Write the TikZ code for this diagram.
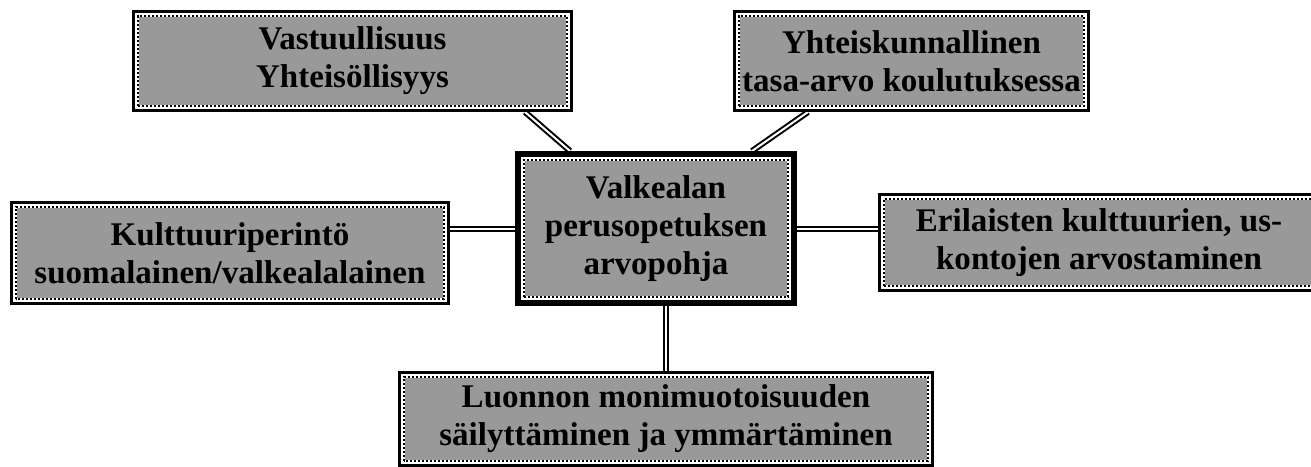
\documentclass[tikz,border=0pt]{standalone}
\usepackage{fontspec}
\setmainfont{Liberation Serif}
\pgfdeclarelayer{bg}
\pgfsetlayers{bg,main}
\tikzset{
  kehys/.style={path picture={
      \draw[white, line width=2*#1+0.05cm] (path picture bounding box.south west) rectangle (path picture bounding box.north east);
      \draw[line width=0.05cm, dash pattern=on 0.06cm off 0.04cm] ([shift={(#1,#1)}]path picture bounding box.south west) rectangle ([shift={(-#1,-#1)}]path picture bounding box.north east);
  }},
  laatikko/.style={draw, line width=0.075cm, fill=black!40, inner sep=0pt, align=center,
    font=\fontsize{23.5}{27}\selectfont\bfseries, kehys=0.1125cm},
  yhteys/.style={double=white, double distance=0.05cm, line width=0.05cm}
}

\begin{document}
\begin{tikzpicture}
        \useasboundingbox (0cm, 0cm) rectangle (32.775000cm, -11.650000cm);
        \node (v0) [laatikko, line width=0.15cm, kehys=0.15cm, minimum width=6.900000cm, minimum height=3.725000cm] at (16.400000cm, -5.712500cm) {Valkealan\\perusopetuksen\\arvopohja};
        \node (v1) [laatikko, minimum width=10.950000cm, minimum height=2.475000cm] at (8.812500cm, -1.525000cm) {Vastuullisuus\\Yhteisöllisyys};
        \node (v2) [laatikko, minimum width=8.850000cm, minimum height=2.475000cm] at (22.787500cm, -1.525000cm) {Yhteiskunnallinen\\tasa-arvo koulutuksessa};
        \node (v3) [laatikko, minimum width=10.925000cm, minimum height=2.525000cm] at (5.750000cm, -6.325000cm) {Kulttuuriperintö\\suomalainen/valkealalainen};
        \node (v4) [laatikko, minimum width=10.975000cm, minimum height=2.400000cm] at (27.475000cm, -6.062500cm) {Erilaisten kulttuurien, us-\\kontojen arvostaminen};
        \node (v5) [laatikko, minimum width=13.325000cm, minimum height=2.325000cm] at (16.650000cm, -10.475000cm) {Luonnon monimuotoisuuden\\säilyttäminen ja ymmärtäminen};
        \begin{pgfonlayer}{bg}
                \draw ([xshift=-1.2cm]v1.south east) edge [yhteys] ([xshift=1.375cm]v0.north west);
                \draw ([xshift=1.875cm]v2.south west) edge [yhteys] ([xshift=-1.125cm]v0.north east);
                \draw (v0.west) edge [yhteys] (v0.west -| v3.east);
                \draw (v0.east) edge [yhteys] (v0.east -| v4.west);
                \draw (v5.north) edge [yhteys] (v5.north |- v0.south);
        \end{pgfonlayer}
\end{tikzpicture}
\end{document}
